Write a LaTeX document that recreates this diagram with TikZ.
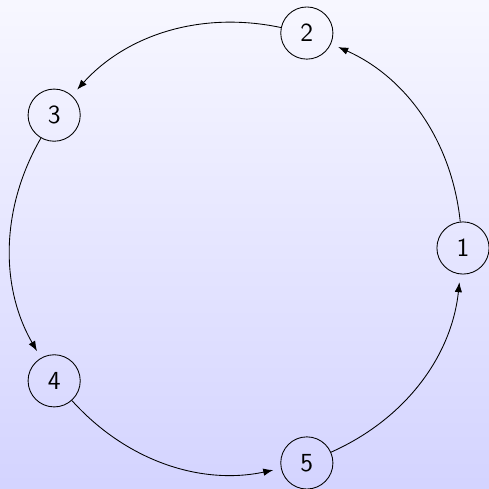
\documentclass[tikz,border=0pt]{standalone}
\usetikzlibrary{arrows.meta}

\colorlet{bgtop}{blue!3}
\colorlet{bgbottom}{blue!17}

\begin{document}
\begin{tikzpicture}[x=0.46pt, y=0.46pt,
  state/.style={draw, circle, minimum size=24pt, inner sep=0pt, font=\sffamily\large},
  edge/.style={-{Latex[length=4.6pt, width=3.4pt]}, shorten >=3.6pt}]
\def\rad{226}

\useasboundingbox (-237,248) rectangle (252,-241);
\shade[top color=bgtop, bottom color=bgbottom] (-237,248) rectangle (252,-241);

\foreach \i in {1,...,5} {
  \node[state] (s\i) at ({72*(\i-1)}:\rad) {\i};
}

\foreach \i/\j in {1/2, 2/3, 3/4, 4/5, 5/1} {
  \draw[edge] (s\i) to[bend right=30, looseness=0.95] (s\j);
}

\end{tikzpicture}
\end{document}
